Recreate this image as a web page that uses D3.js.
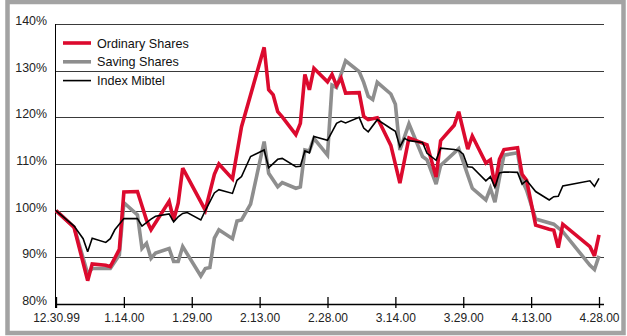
<!DOCTYPE html>
<html>
<head>
<meta charset="utf-8">
<script src="https://d3js.org/d3.v7.min.js"></script>
<style>
  body { margin: 0; background: #fff; }
  svg { display: block; font-family: "Liberation Sans", Arial, sans-serif; }
</style>
</head>
<body>
<svg id="chart" width="627" height="336"></svg>
<script>
// values, % of 12.30.99
const ordinary = [
  ["1999-12-30", 100], ["2000-01-03", 96.4], ["2000-01-06", 85.0], ["2000-01-07", 88.6],
  ["2000-01-10", 88.3], ["2000-01-11", 88.0], ["2000-01-13", 91.7], ["2000-01-14", 104.0],
  ["2000-01-17", 104.1], ["2000-01-19", 98.0], ["2000-01-20", 95.9], ["2000-01-24", 102.0],
  ["2000-01-25", 98.0], ["2000-01-26", 101.6], ["2000-01-27", 109.1], ["2000-02-01", 100.1],
  ["2000-02-03", 107.8], ["2000-02-04", 110.0], ["2000-02-07", 106.8], ["2000-02-09", 118.0],
  ["2000-02-14", 135.0], ["2000-02-15", 125.9], ["2000-02-16", 124.8], ["2000-02-17", 121.2],
  ["2000-02-18", 120.1], ["2000-02-21", 116.3], ["2000-02-22", 118.7], ["2000-02-23", 129.2],
  ["2000-02-24", 125.9], ["2000-02-25", 130.5], ["2000-02-28", 127.6], ["2000-02-29", 129.2],
  ["2000-03-01", 126.8], ["2000-03-02", 128.4], ["2000-03-03", 125.2], ["2000-03-06", 125.3],
  ["2000-03-07", 120.2], ["2000-03-08", 119.5], ["2000-03-10", 119.9], ["2000-03-13", 114.0],
  ["2000-03-15", 105.9], ["2000-03-17", 115.6], ["2000-03-21", 114.1], ["2000-03-23", 107.2],
  ["2000-03-24", 115.0], ["2000-03-27", 118.3], ["2000-03-28", 121.2], ["2000-03-30", 113.2],
  ["2000-03-31", 116.0], ["2000-04-03", 110.2], ["2000-04-04", 110.9], ["2000-04-05", 105.3],
  ["2000-04-06", 111.0], ["2000-04-07", 113.1], ["2000-04-10", 113.5], ["2000-04-11", 107.8],
  ["2000-04-12", 106.5], ["2000-04-14", 96.9], ["2000-04-17", 96.0], ["2000-04-18", 95.8],
  ["2000-04-19", 92.1], ["2000-04-20", 97.1], ["2000-04-26", 92.3], ["2000-04-27", 90.3],
  ["2000-04-28", 94.8]
];

const saving = [
  ["1999-12-30", 100], ["2000-01-03", 96.5], ["2000-01-06", 86.5], ["2000-01-07", 87.6],
  ["2000-01-10", 87.6], ["2000-01-11", 87.6], ["2000-01-13", 90.5], ["2000-01-14", 101.7],
  ["2000-01-17", 99.1], ["2000-01-18", 91.9], ["2000-01-19", 93.0], ["2000-01-20", 89.8],
  ["2000-01-21", 90.9], ["2000-01-24", 91.9], ["2000-01-25", 89.1], ["2000-01-26", 89.1],
  ["2000-01-27", 92.3], ["2000-01-31", 86.0], ["2000-02-01", 87.6], ["2000-02-02", 87.8],
  ["2000-02-03", 94.1], ["2000-02-04", 95.9], ["2000-02-07", 94.0], ["2000-02-08", 97.8],
  ["2000-02-09", 98.0], ["2000-02-11", 101.4], ["2000-02-14", 114.8], ["2000-02-15", 108.0],
  ["2000-02-17", 105.1], ["2000-02-18", 106.0], ["2000-02-21", 104.8], ["2000-02-22", 105.1],
  ["2000-02-23", 113.0], ["2000-02-24", 112.8], ["2000-02-25", 115.5], ["2000-02-28", 111.9],
  ["2000-02-29", 126.9], ["2000-03-01", 126.4], ["2000-03-03", 132.1], ["2000-03-06", 129.8],
  ["2000-03-07", 127.5], ["2000-03-08", 124.5], ["2000-03-09", 123.8], ["2000-03-10", 127.5],
  ["2000-03-13", 125.0], ["2000-03-14", 122.8], ["2000-03-15", 113.0], ["2000-03-17", 118.6],
  ["2000-03-20", 111.6], ["2000-03-21", 110.9], ["2000-03-23", 105.7], ["2000-03-24", 109.7],
  ["2000-03-28", 113.3], ["2000-03-30", 107.6], ["2000-03-31", 104.8], ["2000-04-03", 102.3],
  ["2000-04-04", 104.8], ["2000-04-05", 101.8], ["2000-04-06", 107.0], ["2000-04-07", 111.9],
  ["2000-04-10", 112.4], ["2000-04-11", 106.5], ["2000-04-12", 104.4], ["2000-04-14", 98.2],
  ["2000-04-18", 97.1], ["2000-04-20", 95.5], ["2000-04-26", 88.3], ["2000-04-27", 87.4],
  ["2000-04-28", 90.3]
];

const mibtel = [
  ["1999-12-30", 100], ["2000-01-03", 96.7], ["2000-01-05", 94.0], ["2000-01-06", 91.2],
  ["2000-01-07", 94.1], ["2000-01-10", 93.2], ["2000-01-11", 94.0], ["2000-01-12", 95.9],
  ["2000-01-14", 98.3], ["2000-01-17", 98.3], ["2000-01-18", 96.7], ["2000-01-20", 98.2],
  ["2000-01-21", 98.8], ["2000-01-24", 99.3], ["2000-01-25", 97.6], ["2000-01-26", 98.7],
  ["2000-01-27", 99.4], ["2000-01-28", 99.6], ["2000-01-31", 98.0], ["2000-02-01", 100.0],
  ["2000-02-03", 103.8], ["2000-02-04", 104.5], ["2000-02-07", 103.7], ["2000-02-08", 106.5],
  ["2000-02-09", 107.3], ["2000-02-11", 111.6], ["2000-02-14", 113.0], ["2000-02-15", 109.2],
  ["2000-02-17", 111.0], ["2000-02-18", 111.2], ["2000-02-21", 109.4], ["2000-02-22", 109.5],
  ["2000-02-23", 112.8], ["2000-02-24", 112.4], ["2000-02-25", 115.9], ["2000-02-28", 115.1],
  ["2000-02-29", 116.9], ["2000-03-01", 118.7], ["2000-03-02", 119.2], ["2000-03-03", 118.8],
  ["2000-03-06", 120.0], ["2000-03-07", 117.7], ["2000-03-08", 116.9], ["2000-03-10", 119.5],
  ["2000-03-13", 117.6], ["2000-03-14", 117.0], ["2000-03-15", 113.7], ["2000-03-16", 115.5],
  ["2000-03-17", 115.0], ["2000-03-20", 114.6], ["2000-03-21", 112.3], ["2000-03-23", 110.8],
  ["2000-03-24", 113.4], ["2000-03-27", 113.1], ["2000-03-28", 112.9], ["2000-03-29", 112.1],
  ["2000-03-30", 109.4], ["2000-03-31", 109.3], ["2000-04-03", 106.4], ["2000-04-04", 107.3],
  ["2000-04-05", 105.0], ["2000-04-06", 108.1], ["2000-04-07", 108.3], ["2000-04-10", 108.2],
  ["2000-04-11", 105.7], ["2000-04-12", 106.5], ["2000-04-14", 104.1], ["2000-04-17", 102.3],
  ["2000-04-18", 103.0], ["2000-04-19", 103.1], ["2000-04-20", 105.3], ["2000-04-26", 106.4],
  ["2000-04-27", 105.2], ["2000-04-28", 106.9]
];

const tickDates = ["1999-12-30", "2000-01-14", "2000-01-29", "2000-02-13", "2000-02-28",
                   "2000-03-14", "2000-03-29", "2000-04-13", "2000-04-28"];
const tickLabels = ["12.30.99", "1.14.00", "1.29.00", "2.13.00", "2.28.00",
                    "3.14.00", "3.29.00", "4.13.00", "4.28.00"];
const yTicks = [80, 90, 100, 110, 120, 130, 140];

const seriesNames = ["Ordinary Shares", "Saving Shares", "Index Mibtel"];
const seriesColors = ["#dc0a2e", "#8e8e8e", "#000000"];
const seriesWidths = [3.6, 3.6, 1.6];

const parse = d3.timeParse("%Y-%m-%d");
const svg = d3.select("#chart");

const x = d3.scaleTime()
  .domain([parse("1999-12-30"), parse("2000-04-28")])
  .range([56, 599]);
const y = d3.scaleLinear().domain([80, 140]).range([304, 24]);
const left = 55, right = 604;

// outer frame
svg.append("rect")
  .attr("x", 7.5).attr("y", 2).attr("width", 616).attr("height", 331)
  .attr("fill", "none").attr("stroke", "#a3a3a3").attr("stroke-width", 4.5);

// gridlines
svg.append("g").selectAll("line")
  .data(yTicks.filter(v => v > 80))
  .join("line")
  .attr("x1", left).attr("x2", right)
  .attr("y1", d => Math.round(y(d)) + 0.5).attr("y2", d => Math.round(y(d)) + 0.5)
  .attr("stroke", "#3a3a3a").attr("stroke-width", 1);

// y labels
svg.append("g").selectAll("text")
  .data(yTicks)
  .join("text")
  .attr("x", 47).attr("y", d => y(d) + 1)
  .attr("text-anchor", "end")
  .attr("font-size", "12.4px").attr("fill", "#222")
  .text(d => d + "%");

// y axis line
svg.append("line")
  .attr("x1", left + 0.5).attr("x2", left + 0.5)
  .attr("y1", y(140)).attr("y2", 308)
  .attr("stroke", "#000").attr("stroke-width", 1);

// x axis
const xAxis = d3.axisBottom(x)
  .tickValues(tickDates.map(parse))
  .tickFormat((d, i) => tickLabels[i])
  .tickSize(0)
  .tickPadding(0);
const gx = svg.append("g").attr("transform", "translate(0,304)").call(xAxis);
gx.select(".domain").remove();
gx.selectAll("text").attr("y", 18).attr("dy", null)
  .attr("font-size", "12px").attr("fill", "#222")
  .attr("font-family", "Liberation Sans, Arial, sans-serif");
gx.selectAll(".tick").append("line")
  .attr("x1", 0).attr("x2", 0).attr("y1", -7).attr("y2", 4)
  .attr("stroke", "#000").attr("stroke-width", 1.3);
svg.append("line")
  .attr("x1", left).attr("x2", right)
  .attr("y1", 304.5).attr("y2", 304.5)
  .attr("stroke", "#000").attr("stroke-width", 1.3);

// lines
const line = d3.line()
  .x(d => x(parse(d[0])))
  .y(d => y(d[1]));

const allSeries = [ordinary, saving, mibtel];
[1, 0, 2].forEach(i => {
  svg.append("path")
    .datum(allSeries[i])
    .attr("fill", "none")
    .attr("stroke", seriesColors[i])
    .attr("stroke-width", seriesWidths[i])
    .attr("stroke-linejoin", "miter")
    .attr("stroke-miterlimit", 3)
    .attr("d", line);
});

// legend
const legend = svg.append("g").attr("transform", "translate(63,43)");
seriesNames.forEach((name, i) => {
  const g = legend.append("g").attr("transform", `translate(0,${i * 18.8})`);
  g.append("line")
    .attr("x1", 0).attr("x2", 28).attr("y1", 0).attr("y2", 0)
    .attr("stroke", seriesColors[i]).attr("stroke-width", seriesWidths[i]);
  g.append("text")
    .attr("x", 34).attr("y", 4.5)
    .attr("font-size", "12.6px").attr("fill", "#111")
    .text(name);
});
</script>
</body>
</html>
